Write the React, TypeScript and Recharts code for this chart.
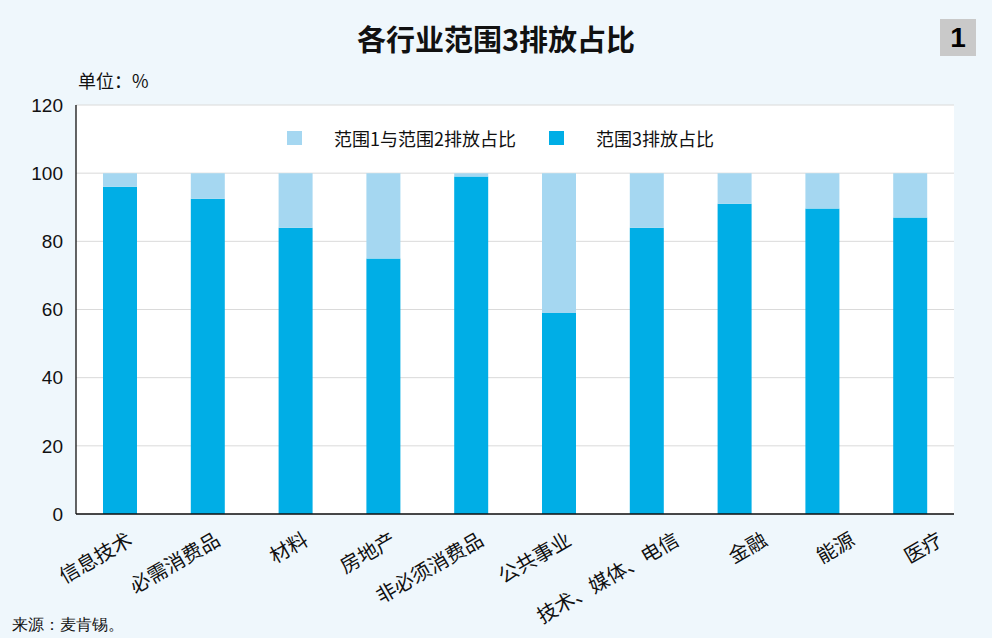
import React from 'react';
import { BarChart, Bar, XAxis, YAxis, CartesianGrid, Legend } from 'recharts';

const categories = ['信息技术', '必需消费品', '材料', '房地产', '非必须消费品', '公共事业', '技术、媒体、电信', '金融', '能源', '医疗'];
const scope3 = [96, 92.5, 84, 75, 99, 59, 84, 91, 89.6, 87];
const scope12 = [4, 7.5, 16, 25, 1, 41, 16, 9, 10.4, 13];
const yTicks = [0, 20, 40, 60, 80, 100, 120];

const SERIES_SCOPE3 = '范围3排放占比';
const SERIES_SCOPE12 = '范围1与范围2排放占比';

const data = categories.map((name, i) => ({ name, s3: scope3[i], s12: scope12[i] }));

const DARK = '#00aee6';
const LIGHT = '#a5d7f1';
const BG = '#eff7fc';
const CJK = '"Noto Sans CJK SC", "Liberation Sans", sans-serif';
const LATIN = '"Liberation Sans", Arial, "Noto Sans CJK SC", sans-serif';

const XTick = (props: any) => {
  const { x, y, payload, index } = props;
  const shift = index < 6 ? 14 : 34;
  const ax = x + shift;
  const ay = y + 22;
  return (
    <text
      x={ax}
      y={ay}
      textAnchor="end"
      transform={`rotate(-30, ${ax}, ${ay})`}
      fontSize={20}
      fontFamily={CJK}
      fill="#111"
    >
      {payload.value}
    </text>
  );
};

const LegendContent = (props: any) => {
  const items = [...(props.payload || [])].sort((a: any, b: any) => (a.value === SERIES_SCOPE12 ? -1 : b.value === SERIES_SCOPE12 ? 1 : 0));
  return (
    <div style={{ display: 'flex', alignItems: 'center', fontFamily: CJK, fontSize: 18, color: '#111' }}>
      {items.map((it: any, i: number) => (
        <div key={i} style={{ display: 'flex', alignItems: 'center', marginRight: 33 }}>
          <span style={{ display: 'inline-block', width: 15, height: 14, background: it.color, marginRight: 32 }} />
          <span style={{ lineHeight: '20px' }}>{it.value}</span>
        </div>
      ))}
    </div>
  );
};

export default function App() {
  return (
    <div style={{ position: 'absolute', left: 0, top: 0, width: 992, height: 638, background: BG, overflow: 'hidden' }}>
      <div style={{ position: 'absolute', left: 0, width: 992, top: 18, textAlign: 'center', fontFamily: CJK, fontWeight: 700, fontSize: 29, lineHeight: '40px', color: '#111' }}>
        各行业范围3排放占比
      </div>
      <div style={{ position: 'absolute', left: 940, top: 19, width: 36, height: 37, background: '#c9c9c9', fontFamily: LATIN, fontWeight: 700, fontSize: 28, lineHeight: '37px', textAlign: 'center', color: '#000' }}>
        1
      </div>
      <div style={{ position: 'absolute', left: 78, top: 68, fontFamily: CJK, fontSize: 18, lineHeight: '24px', color: '#111' }}>
        单位：%
      </div>
      <BarChart width={992} height={638} data={data} margin={{ top: 85, right: 38, bottom: 24, left: 0 }} barSize={34}>
        <CartesianGrid vertical={false} stroke="#dadada" fill="#ffffff" />
        <XAxis
          dataKey="name"
          height={100}
          interval={0}
          tickLine={false}
          axisLine={{ stroke: '#111', strokeWidth: 1.3 }}
          tick={<XTick />}
        />
        <YAxis
          width={76}
          domain={[0, 120]}
          ticks={yTicks}
          interval={0}
          tickLine={false}
          tickMargin={7}
          axisLine={{ stroke: '#111', strokeWidth: 1.3 }}
          tick={{ fontSize: 19, fill: '#111', fontFamily: LATIN }}
        />
        <Legend
          verticalAlign="top"
          height={20}
          content={<LegendContent />}
          wrapperStyle={{ position: 'absolute', top: 128, left: 287, width: 'auto' }}
        />
        <Bar dataKey="s3" name={SERIES_SCOPE3} stackId="a" fill={DARK} isAnimationActive={false} />
        <Bar dataKey="s12" name={SERIES_SCOPE12} stackId="a" fill={LIGHT} isAnimationActive={false} />
      </BarChart>
      <div style={{ position: 'absolute', left: 12, top: 614, fontFamily: 'serif', fontSize: 15.5, lineHeight: '22px', color: '#111' }}>
        来源：麦肯锡。
      </div>
    </div>
  );
}
